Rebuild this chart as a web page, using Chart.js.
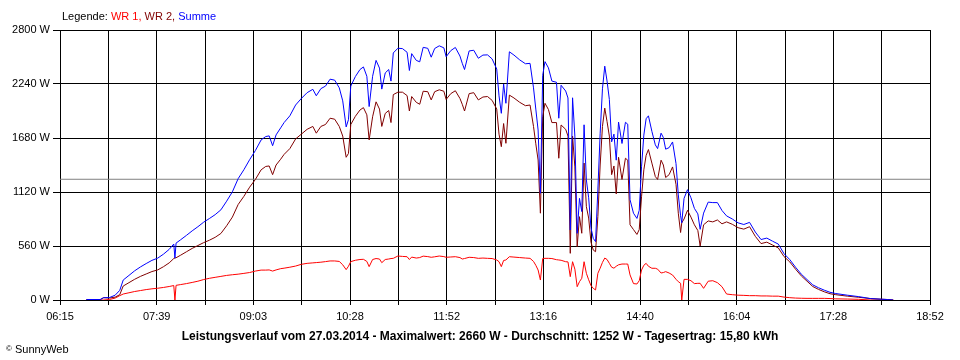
<!DOCTYPE html>
<html>
<head>
<meta charset="utf-8">
<script src="https://cdn.jsdelivr.net/npm/chart.js@4"></script>
<style>
  body { margin: 0; background: #fff; }
  #wrap { position: relative; width: 960px; height: 360px; font-family: "Liberation Sans", Arial, sans-serif; font-size: 11px; color: #000; }
  #chart { position: absolute; left: 0; top: 0; }
  .txt { position: absolute; white-space: nowrap; line-height: 13px; }
  #legend { left: 62px; top: 10px; }
  #caption { left: 0; width: 960px; top: 330px; text-align: center; font-weight: bold; font-size: 12px; }
  #copy { left: 6px; top: 342px; }
  #copy small { font-size: 8px; vertical-align: 2px; }
</style>
</head>
<body>
<div id="wrap">
  <canvas id="chart" width="960" height="360"></canvas>
  <div class="txt" id="legend">Legende: <span style="color:#ff0000">WR 1,</span> <span style="color:#800000">WR 2,</span> <span style="color:#0000ff">Summe</span></div>
  <div class="txt" id="caption">Leistungsverlauf vom 27.03.2014 - Maximalwert: 2660 W - Durchschnitt: 1252 W - Tagesertrag: 15,80 kWh</div>
  <div class="txt" id="copy"><small>©</small> SunnyWeb</div>
</div>
<script>
// Zeitpunkte (HH:MM) und Leistung in W
const times = [
  '06:38','06:50','06:53','06:58','07:03','07:07','07:10','07:15','07:20','07:25',
  '07:30','07:35','07:40','07:45','07:50','07:54','07:55','07:56','08:00','08:05',
  '08:10','08:15','08:20','08:25','08:30','08:35','08:40','08:45','08:50','08:55',
  '09:00','09:05','09:10','09:14','09:17','09:20','09:23','09:27','09:30','09:35',
  '09:40','09:45','09:50','09:55','09:58','10:02','10:06','10:10','10:14','10:18',
  '10:21','10:24','10:26','10:28','10:32','10:36','10:39','10:42','10:44','10:47',
  '10:50','10:53','10:55','10:58','11:01','11:03','11:05','11:09','11:13','11:17',
  '11:19','11:21','11:25','11:28','11:31','11:35','11:38','11:41','11:45','11:49',
  '11:51','11:55','11:59','12:03','12:05','12:07','12:11','12:15','12:19','12:23',
  '12:27','12:31','12:35','12:37','12:39','12:41','12:43','12:46','12:50','12:55',
  '13:00','13:04','13:07','13:09','13:11','13:13','13:15','13:17','13:20','13:23',
  '13:27','13:29','13:31','13:35','13:37','13:39','13:41','13:43','13:45','13:47',
  '13:49','13:51','13:53','13:55','13:57','13:59','14:01','14:03','14:05','14:07',
  '14:09','14:11','14:13','14:15','14:17','14:19','14:21','14:24','14:27','14:29',
  '14:31','14:34','14:37','14:39','14:41','14:43','14:45','14:47','14:50','14:53',
  '14:55','14:58','15:00','15:02','15:05','15:08','15:11','15:13','15:15','15:16',
  '15:18','15:21','15:24','15:27','15:30','15:32','15:35','15:39','15:43','15:47',
  '15:51','15:55','16:00','16:05','16:10','16:15','16:20','16:25','16:30','16:35',
  '16:40','16:45','16:50','16:55','17:00','17:05','17:10','17:15','17:20','17:25',
  '17:30','17:40','17:50','18:00','18:10','18:15','18:20'
];
const wr1 = [
  0,0,0,5,20,45,62,75,88,98,
  108,116,122,130,140,150,0,152,160,170,
  182,195,212,225,235,245,255,262,268,276,
  285,300,310,310,312,300,312,325,330,340,
  352,370,380,385,388,392,398,405,405,400,
  365,315,350,398,412,420,422,400,346,420,
  430,425,387,420,425,430,432,456,452,449,
  420,445,435,440,455,450,443,448,456,450,
  443,446,449,440,425,430,443,440,432,435,
  432,430,415,397,346,410,415,449,445,440,
  435,432,400,360,311,207,430,432,432,430,
  418,415,412,397,395,242,397,320,138,190,
  225,397,277,210,150,121,104,277,330,390,
  435,420,380,340,330,350,365,373,373,373,
  260,170,166,200,311,360,380,350,329,329,
  320,280,285,294,280,259,215,190,173,0,
  214,214,200,170,173,173,121,195,200,180,
  138,62,55,50,48,45,45,42,42,40,
  40,30,24,20,18,17,17,17,17,15,
  12,10,7,0,0,0,0
];
const wr2 = [
  5,5,24,20,30,55,145,180,215,245,
  270,295,312,345,385,430,435,438,465,500,
  535,565,595,620,650,690,770,860,990,1075,
  1170,1250,1350,1385,1390,1300,1400,1460,1510,1570,
  1670,1720,1770,1800,1730,1800,1820,1885,1875,1800,
  1700,1480,1520,1820,1905,1970,1995,1920,1660,1900,
  2055,1980,1800,1935,1965,1840,2130,2155,2155,2120,
  1960,2110,2050,2030,2165,2160,2075,2160,2180,2165,
  2080,2140,2170,2090,2030,1960,2140,2150,2075,2105,
  2110,2070,1980,1720,1590,1830,1625,2125,2095,2050,
  2015,2022,1800,1620,1452,900,1900,2040,1975,1840,
  1840,1470,1815,1770,1700,484,1700,1380,553,864,
  692,1420,968,850,600,518,501,864,1400,1800,
  1990,1850,1700,1300,1390,1100,1480,1250,1470,1450,
  780,730,680,730,1070,1350,1500,1560,1420,1280,
  1250,1450,1400,1270,1300,1380,1200,900,700,800,
  840,930,860,780,720,560,780,820,810,830,
  790,810,785,750,735,760,660,585,600,570,
  540,450,395,320,250,195,140,110,85,65,
  55,40,28,15,8,5,0
];
const summe = [
  5,5,24,25,50,100,207,255,303,343,
  378,411,434,475,525,580,435,590,625,670,
  717,760,807,845,885,935,1025,1122,1258,1351,
  1455,1550,1660,1695,1702,1600,1712,1785,1840,1910,
  2022,2090,2150,2185,2118,2192,2218,2290,2280,2200,
  2065,1795,1870,2218,2317,2390,2417,2320,2006,2320,
  2485,2405,2187,2355,2390,2270,2562,2611,2607,2569,
  2380,2555,2485,2470,2620,2610,2518,2608,2636,2615,
  2523,2586,2619,2530,2455,2390,2583,2590,2507,2540,
  2542,2500,2395,2117,1936,2240,2040,2574,2540,2490,
  2450,2454,2200,1980,1763,1107,2330,2472,2407,2270,
  2258,1885,2227,2167,2095,726,2097,1700,691,1054,
  917,1817,1245,1060,750,639,605,1141,1730,2190,
  2425,2270,2080,1640,1720,1450,1845,1623,1843,1823,
  1040,900,846,930,1381,1710,1880,1910,1749,1609,
  1570,1730,1685,1564,1580,1639,1415,1090,873,800,
  1054,1144,1060,950,893,733,901,1015,1010,1010,
  928,872,840,800,783,805,705,627,642,610,
  580,480,419,340,268,212,157,127,102,80,
  67,50,35,15,8,5,0
];
const durchschnitt = 1252;
const xTickLabels = ['06:15','07:39','09:03','10:28','11:52','13:16','14:40','16:04','17:28','18:52'];
const yTicks = [0, 560, 1120, 1680, 2240, 2800];

const toMin = t => { const p = t.split(':'); return +p[0] * 60 + +p[1]; };
const xMin = toMin('06:15'), xMax = toMin('18:52');
const xGrid = [];
for (let i = 0; i <= 18; i++) xGrid.push(xMin + i * (xMax - xMin) / 18);

const pts = arr => arr.map((v, i) => ({ x: toMin(times[i]), y: v }));
const font = { family: '"Liberation Sans", Arial, sans-serif', size: 11 };

new Chart(document.getElementById('chart'), {
  type: 'line',
  data: {
    datasets: [
      { label: 'Summe', data: pts(summe), borderColor: '#0000ff', order: 0 },
      { label: 'WR 2', data: pts(wr2), borderColor: '#800000', order: 1 },
      { label: 'WR 1', data: pts(wr1), borderColor: '#ff0000', order: 2 },
      { label: 'Durchschnitt', data: [{ x: xMin, y: durchschnitt }, { x: xMax, y: durchschnitt }], borderColor: '#808080', order: 3 }
    ]
  },
  options: {
    responsive: false,
    animation: false,
    devicePixelRatio: 1,
    layout: { padding: { left: 0, top: 30, right: 30, bottom: 0 } },
    elements: {
      point: { radius: 0 },
      line: { borderWidth: 1, tension: 0 }
    },
    plugins: { legend: { display: false }, tooltip: { enabled: false } },
    scales: {
      x: {
        type: 'linear',
        min: xMin,
        max: xMax,
        afterBuildTicks: s => { s.ticks = xGrid.map(v => ({ value: v })); },
        afterFit: s => { s.height = 60; },
        ticks: {
          autoSkip: false, maxRotation: 0, padding: 5, color: '#000', font: font,
          callback: (v, i) => (i % 2 === 0 ? xTickLabels[i / 2] : '')
        },
        grid: { color: '#000', lineWidth: 1, tickLength: 5 },
        border: { color: '#000' }
      },
      y: {
        min: 0,
        max: 2800,
        afterBuildTicks: s => { s.ticks = yTicks.map(v => ({ value: v })); },
        afterFit: s => { s.width = 60; },
        ticks: { padding: 3, color: '#000', font: font, callback: v => v + ' W' },
        grid: { color: '#000', lineWidth: 1, tickLength: 7 },
        border: { color: '#000' }
      }
    }
  }
});
</script>
</body>
</html>
